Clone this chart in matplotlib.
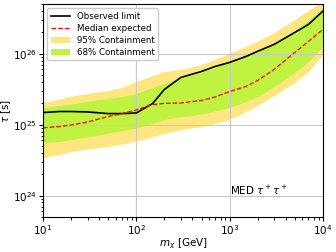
import matplotlib
matplotlib.use("Agg")
import matplotlib.pyplot as plt
import numpy as np

# DM mass [GeV]
mass = [10, 15, 20, 30, 50, 70, 100, 150, 200, 300, 500, 700,
        1000, 1500, 2000, 3000, 5000, 7000, 10000]

# lifetime limits [s]
observed = [1.48e25, 1.53e25, 1.53e25, 1.51e25, 1.43e25, 1.43e25, 1.46e25,
            1.99e25, 3.13e25, 4.62e25, 5.61e25, 6.60e25, 7.52e25, 9.14e25,
            1.08e26, 1.35e26, 1.99e26, 2.58e26, 3.97e26]
median = [9.01e24, 9.40e24, 9.87e24, 1.09e25, 1.30e25, 1.43e25, 1.61e25,
          1.92e25, 1.99e25, 2.02e25, 2.19e25, 2.45e25, 2.93e25, 3.45e25,
          4.19e25, 5.99e25, 1.04e26, 1.49e26, 2.19e26]
band68_hi = [1.74e25, 1.86e25, 1.95e25, 2.12e25, 2.33e25, 2.49e25, 2.75e25,
             3.34e25, 3.80e25, 4.62e25, 5.43e25, 6.40e25, 7.77e25, 9.14e25,
             1.08e26, 1.44e26, 2.12e26, 2.94e26, 4.49e26]
band68_lo = [5.65e24, 5.78e24, 6.17e24, 6.69e24, 7.62e24, 8.26e24, 8.96e24,
             1.04e25, 1.18e25, 1.30e25, 1.41e25, 1.56e25, 1.74e25, 2.12e25,
             2.49e25, 3.45e25, 5.43e25, 7.77e25, 1.26e26]
band95_hi = [2.05e25, 2.30e25, 2.52e25, 2.75e25, 3.03e25, 3.34e25, 4.06e25,
             4.93e25, 5.61e25, 5.99e25, 7.05e25, 8.30e25, 1.02e26, 1.26e26,
             1.51e26, 1.99e26, 3.03e26, 4.06e26, 5.62e26]
band95_lo = [3.47e24, 3.79e24, 4.18e24, 4.53e24, 4.91e24, 5.33e24, 5.87e24,
             6.79e24, 7.49e24, 8.53e24, 9.40e24, 1.04e25, 1.18e25, 1.53e25,
             1.86e25, 2.57e25, 3.93e25, 5.61e25, 9.75e25]

fig = plt.figure(figsize=(3.36, 2.52), dpi=100)
ax = fig.add_axes([0.128, 0.139, 0.833, 0.845])

ax.fill_between(mass, band95_lo, band95_hi, color='#ffe680', lw=0,
                label='95% Containment')
ax.fill_between(mass, band68_lo, band68_hi, color='#bff241', lw=0,
                label='68% Containment')
ax.plot(mass, observed, '-', color='k', lw=1.2, label='Observed limit')
ax.plot(mass, median, '--', color='red', lw=0.9, label='Median expected')

ax.set_xscale('log')
ax.set_yscale('log')
ax.set_xlim(10, 1e4)
ax.set_ylim(5e23, 5e26)
ax.grid(True, which='major', color='#c8c8c8', lw=0.8)

ax.set_xlabel(r'$m_\chi$ [GeV]', fontsize=7.5, labelpad=0)
ax.set_ylabel(r'$\tau$ [s]', fontsize=7.5, labelpad=0)
ax.tick_params(labelsize=7.5, pad=1.5, length=3)
ax.tick_params(which='minor', length=1.8)

ax.text(1.02e3, 1.2e24, r'MED $\tau^+\tau^+$', fontsize=7.5, va='center')

h, l = ax.get_legend_handles_labels()
order = [2, 3, 0, 1]
ax.legend([h[i] for i in order], [l[i] for i in order], loc='upper left',
          fontsize=6.2, framealpha=1, borderpad=0.4, labelspacing=0.35,
          handlelength=2.2)

fig.savefig('out.png', dpi=100)
